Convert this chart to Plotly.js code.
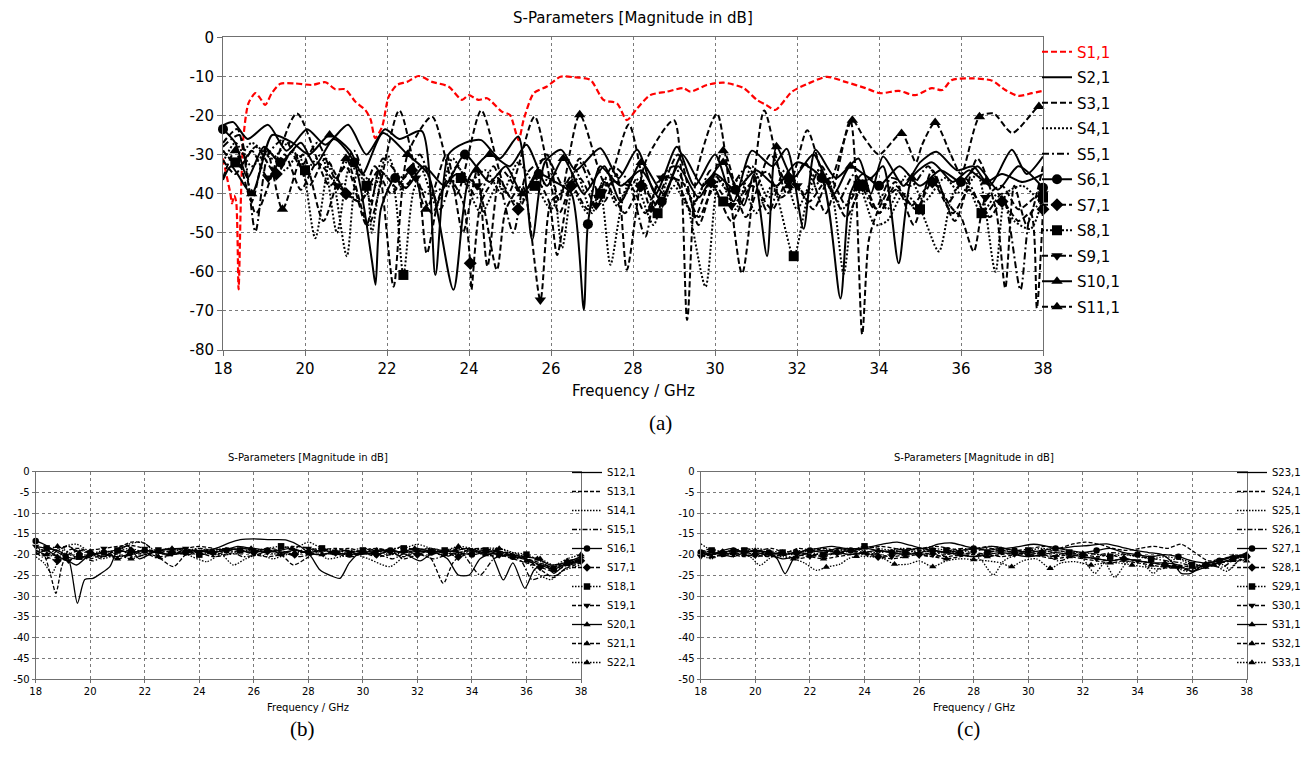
<!DOCTYPE html>
<html><head><meta charset="utf-8">
<script src="https://cdn.plot.ly/plotly-3.0.1.min.js"></script>
<style>html,body{margin:0;padding:0;background:#fff}#chart{width:1304px;height:761px}</style>
</head><body><div id="chart"></div>
<script>
// ---------- (a) S-parameters S1,1 .. S11,1  [GHz, dB] ----------
const S1_1 = [[18.0,-31],[18.1,-36],[18.18,-40],[18.22,-42.5],[18.27,-40.5],[18.32,-42],[18.38,-64.5],[18.44,-40],[18.5,-25.4],[18.62,-16.9],[18.79,-14.3],[18.9,-15.5],[19.03,-17.3],[19.19,-14.3],[19.4,-11.9],[19.76,-11.8],[20.17,-12.2],[20.5,-11.5],[20.74,-13.3],[20.98,-13.3],[21.23,-16.5],[21.47,-18.6],[21.6,-21],[21.71,-25.8],[21.88,-22.9],[22.04,-15.2],[22.24,-12.2],[22.49,-11.4],[22.77,-9.9],[23.1,-11.4],[23.5,-12.6],[23.83,-16.0],[23.99,-14.8],[24.23,-16],[24.44,-15.6],[24.8,-19],[25.0,-19.9],[25.21,-26.3],[25.33,-21.2],[25.58,-14.3],[25.9,-12.6],[26.23,-10.1],[26.55,-10.2],[26.96,-10.9],[27.28,-16],[27.61,-16.9],[27.85,-21.2],[28.1,-18.2],[28.42,-14.8],[28.83,-13.9],[29.23,-13.0],[29.4,-13.9],[29.8,-12.2],[30.21,-11.6],[30.7,-13],[31.02,-16],[31.25,-17.3],[31.47,-18.6],[31.88,-13.9],[32.28,-11.8],[32.73,-10.1],[33.18,-11.4],[33.67,-13.0],[34.03,-14.3],[34.48,-13.7],[34.88,-14.8],[35.29,-13],[35.54,-13.5],[35.78,-10.9],[36.27,-10.5],[36.76,-11.1],[37.08,-13.5],[37.4,-15],[37.73,-14.3],[38,-13.7]];
const S2_1 = [[18,-22.5],[18.25,-21.7],[18.6,-26],[19.1,-22.4],[19.55,-29],[20.05,-23.5],[20.5,-27.5],[21.05,-22.4],[21.5,-30],[21.95,-23.5],[22.3,-26],[22.85,-24],[23.18,-60.8],[23.5,-30],[23.9,-27],[24.3,-26.3],[24.75,-31],[25.2,-25.4],[25.54,-51.8],[25.85,-32],[26.25,-28.8],[26.6,-34],[27.2,-28.4],[27.65,-36],[28.1,-28.8],[28.55,-40],[29.07,-28],[29.5,-38],[30.0,-30],[30.45,-42],[30.9,-29],[31.4,-33],[31.75,-28.5],[32.16,-49],[32.45,-28.8],[32.95,-36],[33.5,-31],[33.8,-40],[34.1,-30.5],[34.6,-38],[35.0,-32],[35.4,-29.3],[35.9,-34],[36.3,-33],[36.7,-38],[37.24,-28.8],[37.6,-35],[38,-30.5]];
const S3_1 = [[18,-27],[18.35,-23.5],[18.8,-45],[19.8,-19.5],[20.6,-38],[21.0,-33],[21.5,-48],[21.8,-34],[22.16,-63.8],[22.5,-30],[23.1,-20.3],[23.7,-40],[24.3,-18.7],[24.95,-40],[25.6,-20.3],[26.2,-45],[26.7,-31],[27.3,-42],[27.6,-35],[27.85,-59.5],[28.3,-32],[29.0,-21.2],[29.32,-72.3],[29.55,-35],[30.05,-19.5],[30.66,-60.4],[31.2,-18.7],[31.75,-40],[32.2,-32],[32.7,-45],[33.3,-21.2],[33.59,-76],[33.75,-52],[33.95,-45],[34.4,-37],[34.85,-48],[35.3,-34],[35.85,-47],[36.4,-31],[36.85,-44],[37.08,-64.2],[37.3,-38],[37.6,-48],[38,-33]];
const S4_1 = [[18,-32],[18.3,-27],[18.7,-33],[19.1,-29],[19.5,-34],[19.85,-30],[20.25,-51.4],[20.6,-32],[21.02,-56],[21.3,-34],[21.7,-38],[22.0,-30],[22.4,-39],[22.8,-33],[23.2,-43],[23.6,-31],[24.0,-37],[24.4,-34],[24.8,-40],[25.2,-32],[25.7,-39],[26.0,-35],[26.27,-53.9],[26.6,-34],[27.0,-45],[27.3,-36],[27.6,-43],[28.0,-36],[28.5,-48],[28.9,-35],[29.3,-42],[29.77,-63.8],[30.1,-36],[30.5,-44],[30.9,-33],[31.3,-41],[31.7,-36],[32.0,-44],[32.5,-34],[32.85,-40],[33.14,-60.5],[33.4,-42],[33.8,-36],[34.2,-44],[34.7,-35],[35.1,-42],[35.6,-36],[36.0,-40],[36.4,-35],[36.84,-60],[37.1,-40],[37.5,-38],[38,-43]];
const S5_1 = [[18,-28],[18.4,-25],[18.79,-49.7],[19.1,-30],[19.5,-26],[19.9,-33],[20.3,-27],[20.75,-36],[21.2,-29],[21.6,-42],[21.9,-31],[22.4,-36],[22.8,-30],[23.3,-44],[23.7,-33],[24.2,-41],[24.6,-33],[25.08,-50],[25.4,-35],[25.9,-31],[26.3,-38],[26.7,-32],[27.1,-41],[27.5,-33],[27.9,-37],[28.3,-51],[28.6,-37],[29.0,-33],[29.5,-42],[29.9,-34],[30.3,-39],[30.8,-33],[31.3,-45],[31.7,-34],[32.2,-40],[32.6,-33],[33.0,-42],[33.4,-35],[33.9,-44],[34.3,-36],[34.8,-38],[35.2,-33],[35.7,-42],[36.1,-36],[36.6,-45],[37.0,-40],[37.45,-64.6],[37.7,-45],[38,-42]];
const S6_1 = [[18,-23.5],[18.3,-27],[18.6,-36],[19.0,-28],[19.4,-32],[19.9,-27],[20.25,-32.7],[20.7,-26],[21.2,-32],[21.63,-57],[21.72,-63.3],[21.85,-44],[22.2,-36],[22.46,-38.6],[22.9,-33],[23.4,-38],[23.9,-30],[24.5,-37],[24.9,-33],[25.3,-40],[25.7,-35],[26.1,-37],[26.5,-40],[26.8,-69.7],[26.9,-47.8],[27.2,-33],[27.7,-38],[28.2,-34],[28.7,-42],[29.1,-33],[29.6,-41],[30.0,-35],[30.5,-39],[31.0,-34],[31.5,-38],[32.0,-32],[32.6,-36],[33.06,-66.8],[33.3,-40],[33.6,-35],[34.0,-38],[34.5,-33],[35.0,-38],[35.5,-34],[36.0,-37],[36.4,-33],[36.9,-39],[37.4,-33],[38,-38.5]];
const S7_1 = [[18,-29],[18.4,-33],[18.8,-28],[19.3,-35],[19.7,-29],[20.1,-38],[20.5,-31],[21.0,-40],[21.35,-42],[21.7,-33],[22.1,-40],[22.6,-34],[23.1,-45],[23.5,-36],[23.85,-42],[24.03,-57.8],[24.06,-64.6],[24.3,-42],[24.7,-36],[25.2,-44],[25.6,-36],[25.95,-42],[26.15,-55.7],[26.5,-38],[26.9,-44],[27.3,-37],[27.8,-45],[28.2,-38],[28.6,-43],[29.0,-36],[29.5,-46],[29.9,-37],[30.4,-47],[30.9,-38],[31.4,-44],[31.8,-36],[32.3,-42],[32.7,-37],[33.2,-46],[33.6,-38],[34.0,-45],[34.4,-38],[34.9,-44],[35.3,-37],[35.8,-45],[36.2,-39],[36.7,-46],[37.0,-42],[37.4,-47],[37.7,-45],[37.85,-69.3],[38,-44]];
const S8_1 = [[18,-29],[18.3,-32],[18.7,-27],[19.2,-31],[19.6,-27],[20.0,-34],[20.4,-30],[20.78,-50],[21.1,-33],[21.5,-38],[21.63,-50],[21.9,-35],[22.15,-38],[22.4,-60.8],[22.7,-38],[23.0,-40],[23.42,-38.2],[23.8,-36],[24.3,-45],[24.7,-38],[25.2,-42.5],[25.6,-38],[26.0,-44],[26.4,-37],[26.9,-45],[27.2,-40],[27.45,-58.2],[27.8,-40],[28.2,-36],[28.6,-45],[29.0,-38],[29.4,-44],[29.8,-37],[30.2,-42],[30.6,-36],[31.0,-45],[31.4,-38],[31.92,-56],[32.3,-40],[32.7,-36],[33.1,-44],[33.5,-38],[33.9,-48],[34.2,-47],[34.6,-40],[35.0,-44],[35.46,-54.8],[35.8,-40],[36.1,-37],[36.5,-45],[36.9,-40],[37.3,-47],[37.7,-49],[38,-41]];
const S9_1 = [[18,-31.4],[18.3,-35],[18.7,-29],[19.1,-36],[19.5,-30],[19.9,-39],[20.3,-32],[20.8,-38],[21.35,-42],[21.8,-34],[22.3,-39],[22.7,-36],[22.97,-55.3],[23.3,-40],[23.7,-35],[24.2,-38],[24.68,-59.5],[24.9,-44],[25.3,-38],[25.74,-67.2],[26.0,-42],[26.3,-39.5],[26.7,-36],[27.1,-43],[27.5,-37],[27.98,-38.6],[28.3,-45],[28.7,-36],[29.2,-37],[29.6,-46],[30.0,-38],[30.4,-43],[30.9,-37],[31.27,-34.4],[31.6,-41],[32.0,-38],[32.4,-44],[32.8,-36],[33.2,-43],[33.6,-37],[34.0,-45],[34.4,-39],[34.8,-43],[35.3,-37],[35.8,-44],[36.0,-46],[36.31,-54.8],[36.6,-41],[37.0,-38],[37.4,-44],[37.8,-41],[38,-40]];
const S10_1 = [[18,-36.5],[18.2,-33],[18.7,-40],[19.2,-25],[19.7,-27],[20.1,-30],[20.6,-25],[21.1,-29],[21.4,-35],[21.9,-24.5],[22.5,-30],[23.0,-35],[23.62,-64.6],[24.0,-36],[24.5,-30],[25.0,-33],[25.4,-27.5],[25.9,-38],[26.3,-31],[26.8,-40],[27.3,-33],[27.7,-42],[28.2,-32],[28.75,-40],[29.2,-30],[29.7,-38],[30.2,-32],[30.7,-43],[30.95,-35],[31.27,-56],[31.5,-28],[31.9,-36],[32.4,-30],[32.9,-40],[33.3,-33],[33.8,-36],[34.1,-33],[34.48,-57.8],[34.8,-36],[35.3,-32],[35.8,-37],[36.2,-34],[36.6,-37],[37.0,-35],[37.5,-37],[38,-35]];
const S11_1 = [[18,-36],[18.3,-29],[18.7,-42],[19.05,-28],[19.45,-44],[19.95,-30],[20.45,-47],[21.0,-31],[21.55,-48],[22.3,-18.7],[22.95,-44],[23.45,-30],[23.85,-50],[24.2,-34],[24.45,-58.6],[24.8,-34],[25.3,-40],[25.9,-30],[26.2,-42],[26.7,-19.8],[27.35,-38],[27.9,-22.3],[28.45,-44],[29.1,-30],[29.6,-48],[30.2,-29],[30.75,-46],[31.35,-30],[31.8,-38],[32.25,-23.8],[32.75,-38],[33.35,-21.2],[33.62,-25.4],[34.0,-30],[34.55,-24.6],[34.9,-32],[35.05,-27.5],[35.37,-21.8],[35.75,-30],[36.0,-35],[36.45,-20.3],[36.8,-19.5],[37.25,-24.5],[37.9,-17.7],[38,-18]];

// ---------- (b) S12,1 .. S22,1 ----------
const S12_1 = [[18,-18],[18.4,-18.5],[18.8,-19],[19.2,-21],[19.53,-31.7],[19.8,-26],[20.1,-25.7],[20.4,-24.5],[20.72,-22.9],[21.0,-19],[21.4,-18],[21.8,-21],[22.3,-19.5],[22.8,-18.8],[23.4,-18.5],[24.0,-19.2],[24.6,-18.5],[25.1,-17.2],[25.5,-16.4],[26.0,-16.2],[26.6,-16.4],[27.2,-16.5],[27.7,-18],[28.1,-20.5],[28.43,-23.7],[28.8,-25],[29.16,-25.7],[29.5,-22],[29.9,-19.5],[30.5,-20],[31.1,-19],[31.6,-20],[32.1,-21.5],[32.6,-19.5],[33.1,-21],[33.5,-24.9],[33.9,-24.9],[34.3,-21],[34.7,-20],[35.15,-26.1],[35.5,-22],[35.94,-28.1],[36.3,-23.5],[36.7,-22.5],[37.0,-24.5],[37.4,-22.5],[38,-21]];
const S13_1 = [[18,-19],[18.3,-20],[18.55,-25],[18.74,-29.3],[18.95,-23],[19.2,-19],[19.6,-18.5],[20.0,-19.5],[20.5,-20.5],[21.0,-18.5],[21.5,-17],[22.0,-17.3],[22.5,-20.5],[23.05,-22.9],[23.5,-20],[24.0,-18.5],[24.5,-19],[25.0,-18.5],[25.5,-19],[26.0,-19.5],[26.5,-19],[27.0,-20],[27.45,-22.5],[27.9,-21],[28.4,-19],[29.0,-18.5],[29.5,-19],[30.0,-19.5],[30.5,-18.5],[31.0,-19],[31.5,-18],[32.0,-19.5],[32.5,-21],[32.95,-26.9],[33.3,-22],[33.8,-19],[34.3,-18.5],[34.8,-19],[35.3,-19.5],[35.8,-20.5],[36.2,-22],[36.6,-24],[37.0,-25.5],[37.4,-23.5],[38,-22]];
const S14_1 = [[18,-20.5],[18.3,-22],[18.59,-24.5],[18.85,-21],[19.1,-18],[19.5,-17.5],[19.9,-19],[20.4,-21],[20.9,-20],[21.4,-17.5],[21.9,-17],[22.4,-19],[22.9,-18.5],[23.4,-19.5],[24.27,-21.7],[24.8,-20],[25.25,-22.5],[25.7,-21],[26.2,-20],[26.7,-21],[27.2,-20],[27.7,-19.5],[28.2,-19],[28.7,-21],[29.2,-20.5],[29.7,-20],[30.2,-21],[30.99,-22.9],[31.5,-20.5],[32.0,-19],[32.5,-18.5],[33.0,-19.5],[33.5,-20],[34.0,-19],[34.5,-18.5],[35.0,-18.5],[35.5,-20],[36.0,-21.5],[36.5,-25],[36.9,-26],[37.3,-24],[38,-22.5]];
const S15_1 = [[18,-19.5],[18.4,-21],[18.8,-19],[19.2,-18],[19.6,-20],[20.1,-21.5],[20.6,-20],[21.1,-19],[21.6,-20.5],[22.1,-20],[22.6,-21],[23.1,-19.5],[23.6,-20],[24.1,-19],[24.6,-20],[25.1,-19],[25.6,-20.5],[26.1,-20],[26.6,-19],[27.1,-19.5],[27.6,-20.5],[28.1,-20],[28.6,-19],[29.1,-20],[29.6,-20.5],[30.1,-19.5],[30.6,-20],[31.1,-21],[31.6,-19.5],[32.1,-20],[32.6,-21],[33.1,-20],[33.6,-19.5],[34.3,-24.9],[34.8,-21],[35.3,-20],[35.8,-21.5],[36.2,-26],[36.7,-25],[37.1,-25],[37.6,-22.5],[38,-22]];
const S16_1 = [[18,-16.7],[18.3,-17.5],[18.7,-19],[19.1,-20.5],[19.5,-21],[20.0,-20],[20.5,-19.5],[21.0,-19],[21.5,-19.5],[22.0,-19],[22.5,-19.5],[23.0,-20],[23.5,-19.5],[24.0,-19],[24.5,-19.5],[25.0,-19],[25.5,-18.5],[26.0,-18.5],[26.5,-19],[27.0,-19.5],[27.5,-19],[28.0,-19.5],[28.5,-19],[29.0,-19.5],[29.5,-20],[30.0,-19.5],[30.5,-19],[31.0,-19],[31.5,-19.5],[32.0,-19],[32.5,-19.5],[33.0,-19],[33.5,-19.5],[34.0,-20],[34.5,-19.5],[35.0,-20],[35.5,-20.5],[36.0,-21],[36.5,-22.5],[37.0,-23.5],[37.5,-22],[38,-22]];
const S17_1 = [[18,-19.5],[18.4,-20.5],[18.8,-21.5],[19.2,-20],[19.6,-19],[20.0,-19.5],[20.5,-20.5],[21.0,-19.5],[21.5,-19],[22.0,-20],[22.5,-19],[23.0,-19.5],[23.5,-19],[24.0,-20],[24.5,-19.5],[25.0,-18.5],[25.5,-19],[26.0,-19.5],[26.5,-18.5],[27.0,-19],[27.5,-20],[28.0,-19],[28.5,-18.5],[29.0,-19.5],[29.5,-20],[30.0,-19.5],[30.5,-20],[31.0,-19],[31.5,-21],[32.0,-20],[32.5,-19],[33.0,-19.5],[33.5,-20.5],[34.0,-19.5],[34.5,-19],[35.0,-20],[35.5,-21],[36.0,-22],[36.5,-23],[37.0,-24],[37.5,-22.5],[38,-21.5]];
const S18_1 = [[18,-19.5],[18.4,-18.5],[18.8,-19],[19.2,-20],[19.6,-20.5],[20.0,-20.5],[20.5,-19.5],[21.0,-19],[21.5,-18.5],[22.0,-19.5],[22.5,-19],[23.0,-18.5],[23.5,-19],[24.0,-20],[24.5,-19],[25.0,-18.5],[25.5,-19],[26.0,-19],[26.5,-18.5],[27.0,-18],[27.5,-18.5],[28.0,-17],[28.5,-18.5],[29.0,-19],[29.5,-19.5],[30.0,-19],[30.5,-19.5],[31.0,-18.5],[31.5,-18.5],[32.0,-17.5],[32.5,-18.5],[33.0,-19],[33.5,-18.5],[34.0,-19.5],[34.5,-19],[35.0,-19.5],[35.5,-19.5],[36.0,-20],[36.5,-21.5],[37.0,-23.5],[37.5,-22],[38,-21]];
const S19_1 = [[18,-18],[18.4,-19.5],[18.8,-20.5],[19.2,-21.5],[19.6,-20],[20.0,-19],[20.5,-18.5],[21.0,-18],[21.5,-17.8],[22.0,-18.5],[22.5,-19.5],[23.0,-19],[23.5,-18.5],[24.0,-18],[24.5,-18.5],[25.0,-19],[25.5,-18.5],[26.0,-19],[26.5,-19.5],[27.0,-18.5],[27.5,-18],[28.0,-18.5],[28.5,-19.5],[29.0,-20],[29.5,-19.5],[30.0,-19],[30.5,-18.5],[31.0,-19.5],[31.5,-20.5],[32.0,-19.5],[32.5,-19],[33.0,-20.5],[33.5,-19.5],[34.0,-19],[34.5,-20],[35.0,-19.5],[35.5,-20.5],[36.0,-21],[36.5,-22],[37.0,-23],[37.5,-22],[38,-21.5]];
const S20_1 = [[18,-20],[18.4,-19],[18.8,-20.5],[19.2,-21.5],[19.5,-22.5],[19.9,-20.5],[20.4,-19.5],[20.9,-20.5],[21.4,-20],[21.9,-19],[22.4,-19.5],[22.9,-20],[23.4,-19.5],[23.9,-19],[24.4,-19.5],[24.9,-19],[25.4,-18],[25.9,-18.5],[26.4,-19.5],[26.9,-19],[27.4,-18.5],[27.9,-19.5],[28.4,-20],[28.9,-19.5],[29.4,-19],[29.9,-20],[30.4,-19.5],[30.9,-19],[31.4,-19.5],[31.9,-18.5],[32.4,-19],[32.9,-19.5],[33.4,-19],[33.9,-18.5],[34.4,-19.5],[34.9,-19],[35.4,-20],[35.9,-20.5],[36.4,-21],[36.9,-22.5],[37.4,-22],[38,-20.5]];
const S21_1 = [[18,-19],[18.4,-20],[18.8,-18.5],[19.2,-18],[19.6,-19.5],[20.0,-21],[20.5,-20],[21.0,-21],[21.5,-20],[22.0,-19.5],[22.5,-20.5],[23.0,-20],[23.5,-19],[24.0,-19.5],[24.5,-20.5],[25.0,-20],[25.5,-19],[26.0,-20],[26.5,-20.5],[27.0,-20],[27.5,-19],[28.0,-19.5],[28.5,-20],[29.0,-19],[29.5,-18.5],[30.0,-19.5],[30.5,-20.5],[31.0,-20],[31.5,-19],[32.0,-18.5],[32.5,-19.5],[33.0,-20],[33.5,-18.5],[34.0,-19],[34.5,-20],[35.0,-20.5],[35.5,-20],[36.0,-21.5],[36.5,-22.5],[37.0,-23],[37.5,-21.5],[38,-21]];
const S22_1 = [[18,-18.5],[18.4,-19],[18.8,-18],[19.2,-19.5],[19.6,-21],[20.0,-20],[20.5,-19],[21.0,-20],[21.5,-21],[22.0,-20],[22.5,-19],[23.0,-18.5],[23.5,-19],[24.0,-18.5],[24.5,-19.5],[25.0,-20],[25.5,-19.5],[26.0,-19],[26.5,-19.5],[27.0,-20],[27.5,-19.5],[28.0,-18.5],[28.5,-19],[29.0,-19.5],[29.5,-19],[30.0,-18.5],[30.5,-19],[31.0,-20],[31.5,-19.5],[32.0,-19],[32.5,-18.5],[33.0,-19],[33.5,-18],[34.0,-18.5],[34.5,-19],[35.0,-18.5],[35.5,-19.5],[36.0,-20.5],[36.5,-21],[37.0,-22.5],[37.5,-21],[38,-20]];

// ---------- (c) S23,1 .. S33,1 ----------
const S23_1 = [[18,-19],[18.4,-20],[18.8,-19],[19.2,-18.5],[19.6,-19.5],[20.0,-19],[20.5,-19.5],[20.8,-21],[21.09,-24.6],[21.4,-21],[21.8,-19],[22.3,-18.5],[22.8,-18],[23.3,-18.5],[23.8,-18.5],[24.3,-18],[24.8,-17.3],[25.2,-17],[25.7,-17.8],[26.2,-18.5],[26.7,-17.5],[27.2,-17.2],[27.7,-18],[28.2,-18.5],[28.7,-18],[29.2,-18.5],[29.7,-18],[30.2,-17.5],[30.7,-18],[31.2,-18.5],[31.7,-18],[32.2,-17.8],[32.87,-17.4],[33.4,-18.2],[33.9,-19],[34.4,-19.5],[34.9,-20],[35.3,-22],[35.6,-24.5],[35.95,-24.5],[36.4,-22.5],[36.9,-21.5],[37.4,-20.5],[38,-20]];
const S24_1 = [[18,-19.5],[18.4,-18.5],[18.8,-19.5],[19.2,-19],[19.6,-18.5],[20.1,-19],[20.6,-18.5],[21.1,-19.5],[21.6,-18.5],[22.1,-19],[22.6,-18.5],[23.1,-19.5],[23.6,-19],[24.1,-18.5],[24.6,-18],[25.1,-18.5],[25.6,-19],[26.1,-18.5],[26.6,-18],[27.1,-18.5],[27.6,-19],[28.1,-18.5],[28.6,-18],[29.1,-18.5],[29.6,-19],[30.1,-18.5],[30.6,-18],[31.1,-18.5],[31.6,-17.5],[32.1,-17],[32.6,-17.5],[33.1,-18.5],[33.6,-19],[34.1,-18.5],[34.6,-18],[35.1,-18.5],[35.6,-17.5],[36.1,-19.5],[36.6,-21.5],[37.1,-21],[37.6,-20.5],[38,-19.5]];
const S25_1 = [[18,-20],[18.4,-21],[18.8,-19.5],[19.2,-19],[19.6,-19.5],[19.9,-21],[20.17,-22.6],[20.5,-21],[20.9,-19.5],[21.4,-20],[21.9,-19],[22.4,-18.5],[22.9,-19],[23.4,-18.5],[23.9,-19],[24.4,-19.5],[24.9,-19],[25.4,-18.5],[25.9,-19.5],[26.4,-20],[26.9,-19.5],[27.4,-19],[27.9,-19.5],[28.3,-21.5],[28.72,-24.9],[29.1,-21.5],[29.6,-20],[30.1,-19.5],[30.6,-19],[31.1,-20],[31.6,-19.5],[32.0,-21],[32.44,-24.5],[32.8,-22],[33.17,-25.5],[33.6,-22],[34.1,-21.5],[34.58,-24.5],[35.0,-22],[35.5,-21],[36.0,-22],[36.5,-23],[37.0,-22],[37.4,-23.5],[37.7,-21.5],[38,-21]];
const S26_1 = [[18,-19],[18.4,-19.5],[18.8,-20.5],[19.2,-19.5],[19.6,-19],[20.1,-19.5],[20.6,-20.5],[21.1,-20],[21.6,-19.5],[22.1,-20],[22.6,-19.5],[23.1,-19],[23.6,-19.5],[24.1,-20],[24.6,-19.5],[25.1,-19],[25.6,-18.5],[26.1,-19],[26.6,-19.5],[27.1,-19],[27.6,-18.5],[28.1,-19],[28.6,-18.5],[29.1,-19],[29.6,-19.5],[30.1,-19],[30.6,-20],[31.1,-21.5],[31.6,-20.5],[32.1,-19.5],[32.6,-20],[33.1,-19.5],[33.6,-20],[34.1,-20.5],[34.6,-21],[35.1,-21.5],[35.6,-22],[36.1,-23],[36.6,-22.5],[37.1,-23],[37.6,-21],[38,-20.5]];
const S27_1 = [[18,-19.5],[18.4,-20],[18.8,-19.5],[19.2,-19],[19.6,-19.5],[20.0,-19],[20.5,-19.5],[21.0,-20],[21.5,-19.5],[22.0,-19],[22.5,-19.5],[23.0,-18.5],[23.5,-19],[24.0,-18.5],[24.5,-19],[25.0,-19.5],[25.5,-19],[26.0,-18.5],[26.5,-19],[27.0,-19.5],[27.5,-19],[28.0,-18.5],[28.5,-19],[29.0,-18.5],[29.5,-19],[30.0,-19.5],[30.5,-19],[31.0,-18.5],[31.5,-19],[32.0,-19.5],[32.5,-19],[33.0,-18.5],[33.5,-19.5],[34.0,-20],[34.5,-20.5],[35.0,-20],[35.5,-20.5],[36.0,-21.5],[36.5,-22],[37.0,-21.5],[37.5,-20.5],[38,-20]];
const S28_1 = [[18,-20],[18.4,-19],[18.8,-19.5],[19.2,-20],[19.6,-19.5],[20.0,-20],[20.5,-20.5],[21.0,-20],[21.5,-19.5],[22.0,-20],[22.5,-20.5],[23.0,-19.5],[23.5,-19],[24.0,-20],[24.5,-20.5],[25.0,-20],[25.5,-19.5],[26.0,-20],[26.5,-20.5],[27.0,-20],[27.5,-19.5],[28.0,-20],[28.5,-19.5],[29.0,-19],[29.5,-19.5],[30.0,-20],[30.5,-19.5],[31.0,-19],[31.5,-19.5],[32.0,-20],[32.5,-20.5],[33.0,-20],[33.5,-21],[34.0,-21.5],[34.5,-22],[35.0,-22.5],[35.5,-23],[36.0,-24],[36.5,-22.5],[37.0,-22],[37.5,-21],[38,-20.5]];
const S29_1 = [[18,-17.4],[18.4,-19],[18.8,-20],[19.2,-19.5],[19.6,-19],[20.0,-18.5],[20.5,-19],[21.0,-19.5],[21.5,-19],[22.0,-19.5],[22.5,-20],[23.0,-19.5],[23.5,-19],[24.0,-18],[24.5,-18.5],[25.0,-19],[25.5,-19.5],[26.0,-19],[26.5,-18.5],[27.0,-19],[27.5,-20],[28.0,-20.5],[28.5,-19.5],[29.0,-19],[29.5,-19.5],[30.0,-19],[30.5,-18.5],[31.0,-19],[31.5,-19.5],[32.0,-19.5],[32.5,-20],[33.0,-20.5],[33.5,-20],[34.0,-20.5],[34.5,-21],[35.0,-20.5],[35.5,-21],[36.0,-22.5],[36.5,-22.5],[37.0,-22],[37.5,-21],[38,-20.5]];
const S30_1 = [[18,-20.5],[18.4,-20],[18.8,-19.5],[19.2,-20],[19.6,-20.5],[20.0,-20],[20.5,-19.5],[21.0,-20],[21.5,-21],[22.0,-20.5],[22.5,-20],[23.0,-19.5],[23.5,-19],[24.0,-19.5],[24.5,-20],[25.0,-20.5],[25.5,-20],[26.0,-19.5],[26.5,-20],[27.0,-20.5],[27.5,-20],[28.0,-19.5],[28.5,-20],[29.0,-20.5],[29.5,-20],[30.0,-19.5],[30.5,-20],[31.0,-20.5],[31.5,-20],[32.0,-20.5],[32.5,-21],[33.0,-21.5],[33.5,-21],[34.0,-21.5],[34.5,-22],[35.0,-22.5],[35.5,-23],[36.0,-23.5],[36.5,-22.5],[37.0,-22],[37.5,-21.5],[38,-21]];
const S31_1 = [[18,-20.5],[18.4,-19.5],[18.8,-20],[19.2,-20.5],[19.6,-19.5],[20.0,-19],[20.5,-20],[21.0,-21],[21.5,-20.5],[22.0,-19.5],[22.5,-19],[23.0,-19.5],[23.5,-20],[24.0,-19.5],[24.5,-19],[25.0,-19.5],[25.5,-20],[26.0,-19.5],[26.5,-19],[27.0,-19.5],[27.5,-20],[28.0,-20.5],[28.5,-20],[29.0,-19.5],[29.5,-20],[30.0,-20.5],[30.5,-20],[31.0,-19.5],[31.5,-20],[32.0,-20.5],[32.5,-21],[33.0,-21.5],[33.5,-21],[34.0,-21.5],[34.5,-22],[35.0,-22],[35.5,-22.5],[36.0,-24],[36.5,-23],[37.0,-22],[37.5,-21],[38,-20]];
const S32_1 = [[18,-19],[18.4,-20.5],[18.8,-20],[19.2,-19.5],[19.6,-20],[20.0,-20.5],[20.5,-20],[21.0,-19.5],[21.5,-20],[22.0,-20.5],[22.5,-21],[23.0,-20.5],[23.5,-20],[24.0,-19.5],[24.5,-20.5],[25.0,-21],[25.5,-20.5],[26.0,-20],[26.5,-20.5],[27.0,-21],[27.5,-20.5],[28.0,-20],[28.5,-20.5],[29.0,-20],[29.5,-19.5],[30.0,-20],[30.5,-20.5],[31.0,-21],[31.5,-20.5],[32.0,-21],[32.5,-21.5],[33.0,-22],[33.5,-21.5],[34.0,-22],[34.5,-22.5],[35.0,-23],[35.5,-22.5],[36.0,-23],[36.5,-22],[37.0,-21.5],[37.5,-20.5],[38,-20.5]];
const S33_1 = [[18,-20.5],[18.4,-19.5],[18.8,-20],[19.2,-19.5],[19.6,-19],[20.0,-19.5],[20.5,-20],[21.0,-20.5],[21.4,-21],[21.8,-22],[22.25,-23.8],[22.6,-23],[23.1,-22.3],[23.4,-21],[23.7,-20.4],[24.2,-20.5],[24.7,-21],[25.1,-22.3],[25.6,-22.3],[26.0,-21.5],[26.5,-22.9],[27.0,-21.5],[27.5,-21],[28.0,-21.2],[28.5,-21.5],[29.0,-22],[29.39,-22.9],[29.8,-21.5],[30.3,-21],[30.8,-23.3],[31.2,-22],[31.71,-21.7],[32.3,-22.5],[32.8,-22],[33.3,-22],[33.8,-22.5],[34.3,-23],[34.8,-23.5],[35.3,-23],[35.8,-24],[36.3,-23],[36.8,-22.5],[37.27,-24],[37.7,-21.5],[38,-21.5]];

// ---------- names, ticks ----------
const namesA = ['S1,1','S2,1','S3,1','S4,1','S5,1','S6,1','S7,1','S8,1','S9,1','S10,1','S11,1'];
const namesB = ['S12,1','S13,1','S14,1','S15,1','S16,1','S17,1','S18,1','S19,1','S20,1','S21,1','S22,1'];
const namesC = ['S23,1','S24,1','S25,1','S26,1','S27,1','S28,1','S29,1','S30,1','S31,1','S32,1','S33,1'];
const xTickVals = [18,20,22,24,26,28,30,32,34,36,38];
const xTickText = ['18','20','22','24','26','28','30','32','34','36','38'];
const yTickValsA = [0,-10,-20,-30,-40,-50,-60,-70,-80];
const yTickTextA = ['0','-10','-20','-30','-40','-50','-60','-70','-80'];
const yTickValsB = [0,-5,-10,-15,-20,-25,-30,-35,-40,-45,-50];
const yTickTextB = ['0','-5','-10','-15','-20','-25','-30','-35','-40','-45','-50'];

const seriesA = [S2_1,S3_1,S4_1,S5_1,S6_1,S7_1,S8_1,S9_1,S10_1,S11_1];
const seriesB = [S12_1,S13_1,S14_1,S15_1,S16_1,S17_1,S18_1,S19_1,S20_1,S21_1,S22_1];
const seriesC = [S23_1,S24_1,S25_1,S26_1,S27_1,S28_1,S29_1,S30_1,S31_1,S32_1,S33_1];

// line / marker style cycle (CST style)
const kinds = [['solid',null],['dash',null],['dot',null],['dashdot',null],['solid','circle'],['dash','diamond'],['dot','square'],['dash','triangle-down'],['solid','triangle-up'],['dash','triangle-up'],['dot','triangle-up']];
const dashBig = {solid:'solid', dash:'6px,3px', dot:'2px,2px', dashdot:'7px,3px,2px,3px'};
const dashSmall = {solid:'solid', dash:'4px,2px', dot:'1.5px,1.5px', dashdot:'5px,2px,1.5px,2px'};

function mk(name, pts, k, ax, leg, lw, ms, md, dashes, color){
  const t = {type:'scatter', x:pts.map(p=>p[0]), y:pts.map(p=>p[1]), name:name,
    xaxis:'x'+ax, yaxis:'y'+ax, legend:leg, legendgroup:leg+name,
    mode: k[1] ? 'lines+markers' : 'lines',
    line:{color:color||'#000', width:lw, dash:dashes[k[0]], shape:'spline', smoothing:0.7},
    cliponaxis:false, hoverinfo:'skip'};
  if(k[1]) t.marker = {symbol:k[1], size:ms, color:'#000', maxdisplayed:md};
  return t;
}

const traces = [];
traces.push(mk('<span style="color:#ff0000">S1,1</span>', S1_1, ['dash',null], '', 'legend', 2.2, 0, 0, {dash:'6px,3px'}, '#ff0000'));
seriesA.forEach((s,i)=>traces.push(mk(namesA[i+1], s, kinds[i], '', 'legend', 2, 10, 15, dashBig)));
seriesB.forEach((s,i)=>traces.push(mk(namesB[i], s, kinds[i], '2', 'legend2', 1.3, 6.5, 16, dashSmall)));
seriesC.forEach((s,i)=>traces.push(mk(namesC[i], s, kinds[i], '3', 'legend3', 1.3, 6.5, 16, dashSmall)));

const W = 1304, H = 761;
const px = v => v / W, py = v => 1 - v / H;
const FONT = 'DejaVu Sans, Verdana, sans-serif';

function axis(extra){
  return Object.assign({showline:true, linecolor:'#707070', linewidth:1, mirror:true,
    showgrid:true, gridcolor:'#7a7a7a', griddash:'dot', gridwidth:1, zeroline:false,
    ticks:'outside', tickcolor:'#707070', tickmode:'array', fixedrange:true}, extra);
}

const layout = {
  width:W, height:H, margin:{l:0,r:0,t:0,b:0,autoexpand:false},
  paper_bgcolor:'#fff', plot_bgcolor:'#fff',
  font:{family:FONT, color:'#000'}, showlegend:true,
  xaxis: axis({domain:[px(223),px(1043)], range:[18,38], tickvals:xTickVals, ticktext:xTickText, ticklen:5, tickfont:{size:15}, anchor:'y'}),
  yaxis: axis({domain:[py(350),py(37.3)], range:[-80,0], tickvals:yTickValsA, ticktext:yTickTextA, ticklen:5, tickfont:{size:15}, anchor:'x'}),
  xaxis2: axis({domain:[px(35.7),px(581)], range:[18,38], tickvals:xTickVals, ticktext:xTickText, ticklen:3, tickfont:{size:10}, anchor:'y2'}),
  yaxis2: axis({domain:[py(679.3),py(471.5)], range:[-50,0], tickvals:yTickValsB, ticktext:yTickTextB, ticklen:3, tickfont:{size:10}, anchor:'x2'}),
  xaxis3: axis({domain:[px(700.7),px(1246.7)], range:[18,38], tickvals:xTickVals, ticktext:xTickText, ticklen:3, tickfont:{size:10}, anchor:'y3'}),
  yaxis3: axis({domain:[py(679.3),py(471.5)], range:[-50,0], tickvals:yTickValsB, ticktext:yTickTextB, ticklen:3, tickfont:{size:10}, anchor:'x3'}),
  legend: {x:px(1037), y:py(35.5), xanchor:'left', yanchor:'top', bgcolor:'rgba(0,0,0,0)', font:{size:15, family:FONT}, traceorder:'grouped', tracegroupgap:3},
  legend2:{x:px(567), y:py(458), xanchor:'left', yanchor:'top', bgcolor:'rgba(0,0,0,0)', font:{size:10, family:FONT}, traceorder:'grouped', tracegroupgap:0},
  legend3:{x:px(1232), y:py(458), xanchor:'left', yanchor:'top', bgcolor:'rgba(0,0,0,0)', font:{size:10, family:FONT}, traceorder:'grouped', tracegroupgap:0},
  annotations: [
    {text:'S-Parameters [Magnitude in dB]', x:px(633), y:py(18), font:{size:15}},
    {text:'Frequency / GHz', x:px(633), y:py(391), font:{size:15}},
    {text:'(a)', x:px(660), y:py(423), font:{size:21, family:'Liberation Serif, Times New Roman, serif'}},
    {text:'S-Parameters [Magnitude in dB]', x:px(308), y:py(457), font:{size:10}},
    {text:'Frequency / GHz', x:px(308), y:py(707), font:{size:10}},
    {text:'(b)', x:px(302), y:py(729), font:{size:21, family:'Liberation Serif, Times New Roman, serif'}},
    {text:'S-Parameters [Magnitude in dB]', x:px(974), y:py(457), font:{size:10}},
    {text:'Frequency / GHz', x:px(974), y:py(707), font:{size:10}},
    {text:'(c)', x:px(968), y:py(729), font:{size:21, family:'Liberation Serif, Times New Roman, serif'}}
  ].map(a=>Object.assign({xref:'paper', yref:'paper', showarrow:false, xanchor:'center', yanchor:'middle'}, a))
};

Plotly.newPlot('chart', traces, layout, {staticPlot:true, displayModeBar:false});
</script>
</body></html>
